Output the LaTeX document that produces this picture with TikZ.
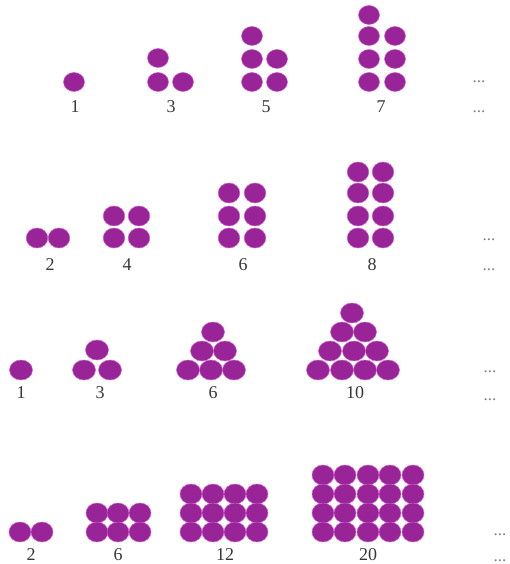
\documentclass[tikz,border=0pt]{standalone}
\usepackage{fontspec}
\setmainfont{Liberation Serif}
\definecolor{dotc}{RGB}{152,36,152}
\definecolor{dotedge}{RGB}{205,95,205}
\definecolor{labc}{RGB}{55,55,55}
\begin{document}
\begin{tikzpicture}[x=1pt,y=-1pt,
  dotf/.style={fill=dotc, draw=dotedge, line width=0.5pt},
  lbl/.style={text=labc, font=\fontsize{18}{20}\selectfont, inner sep=0pt},
  ell/.style={text=gray, font=\fontsize{17}{19}\selectfont, inner sep=0pt, anchor=base}]
\useasboundingbox (0,0) rectangle (510,564);
\newcommand\mydot[4]{\filldraw[dotf] (#1,#2) ellipse [x radius=#3, y radius=#4];}
% Row 1: odd numbers
\foreach \x/\y in {74/82, 158/58,158/82,183/82, 252/36,252/59,277/59,252/82,277/82,
  369/15,369/36,395/36,369/59,395/59,369/82,395/82} {\mydot{\x}{\y}{10.5}{9.5}}
\node[lbl] (a1) at (75,107) {1};
\node[lbl] (a3) at (171,107) {3};
\node[lbl] (a5) at (266,107) {5};
\node[lbl] (a7) at (381,107) {7};
\node[ell] (ae1) at (479,83) {...};
\node[ell] (ae2) at (479,113) {...};
% Row 2: even numbers
\foreach \x/\y in {37/238,59/238, 114/216,139/216,114/238,139/238,
  229/193,255/193,229/216,255/216,229/238,255/238,
  358/172,383/172,358/193,383/193,358/216,383/216,358/238,383/238} {\mydot{\x}{\y}{10.8}{10}}
\node[lbl] (b2) at (50,265) {2};
\node[lbl] (b4) at (127,265) {4};
\node[lbl] (b6) at (243,265) {6};
\node[lbl] (b8) at (372,265) {8};
\node[ell] (be1) at (489,240) {...};
\node[ell] (be2) at (489,270) {...};
% Row 3: triangular numbers
\foreach \x/\y in {21/370, 97/350,84/370,110/370,
  213/332,202/351,225/351,188/370,211/370,234/370,
  352/313,342/332,365/332,330/351,354/351,377/351,318/370,342/370,365/370,388/370} {\mydot{\x}{\y}{11.5}{10}}
\node[lbl] (c1) at (21,393) {1};
\node[lbl] (c3) at (100,393) {3};
\node[lbl] (c6) at (213,393) {6};
\node[lbl] (c10) at (355,393) {10};
\node[ell] (ce1) at (490,372) {...};
\node[ell] (ce2) at (490,400) {...};
% Row 4: oblong numbers
\foreach \x/\y in {20/532,42/532} {\mydot{\x}{\y}{11}{10}}
\foreach \x in {97,118,140} {\foreach \y in {513,532} {\mydot{\x}{\y}{11}{10}}}
\foreach \x in {191,213,235,257} {\foreach \y in {494,513,532} {\mydot{\x}{\y}{11}{10}}}
\foreach \x in {323,345,368,390,413} {\foreach \y in {475,494,513,532} {\mydot{\x}{\y}{11}{10}}}
\node[lbl] (d2) at (31,555) {2};
\node[lbl] (d6) at (118,555) {6};
\node[lbl] (d12) at (225,555) {12};
\node[lbl] (d20) at (368,555) {20};
\node[ell] (de1) at (500,535) {...};
\node[ell] (de2) at (500,561) {...};
\end{tikzpicture}
\end{document}
